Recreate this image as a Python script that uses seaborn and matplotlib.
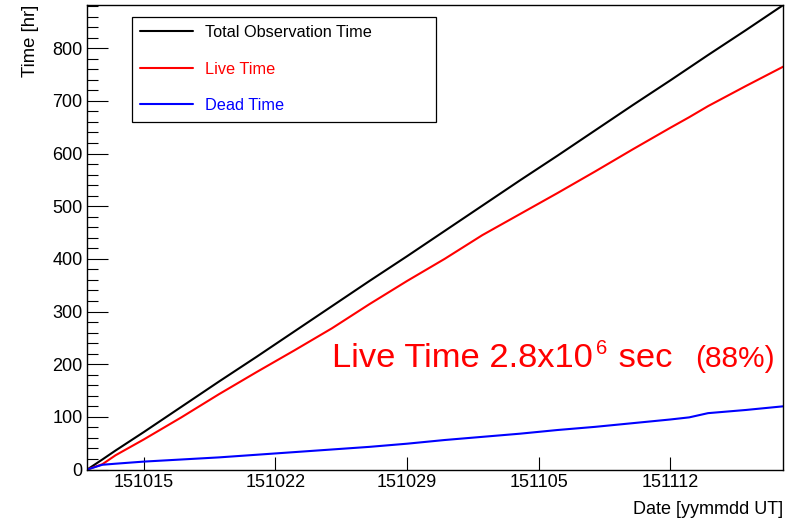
import numpy as np
import pandas as pd
import matplotlib
matplotlib.use("Agg")
import matplotlib.pyplot as plt
import matplotlib.ticker as mticker
from matplotlib.lines import Line2D
import seaborn as sns

# ---- data ----
start_date = "2015-10-12"
days = [0, 0.8, 1.5, 3, 5, 7, 9, 11, 13, 15, 17, 19, 21, 23, 25, 27, 29, 31, 32, 33, 35, 37]
total_hr = [0, 19, 36, 71, 119, 167, 214, 262, 310, 358, 405, 453, 501, 549, 596, 644, 692, 739, 763, 787, 834, 882]
live_hr = [0, 10, 27, 57, 99, 143, 185, 226, 268, 314, 358, 400, 445, 485, 525, 566, 608, 649, 669, 690, 728, 765]
dead_hr = [0, 9, 11, 15, 19, 23, 28, 33, 38, 43, 49, 56, 62, 68, 75, 81, 88, 95, 99, 107, 113, 120]

series_names = ["Total Observation Time", "Live Time", "Dead Time"]
series_colors = ["#000000", "#ff0000", "#0000ff"]
xtick_labels = ["151015", "151022", "151029", "151105", "151112"]
y_max = 882
annotation_text = ["Live Time 2.8x10", "6", " sec", "(88%)"]

# ---- build long-form table ----
t0 = pd.Timestamp(start_date)
dates = t0 + pd.to_timedelta(days, unit="D")
frames = []
for name, vals in zip(series_names, [total_hr, live_hr, dead_hr]):
    frames.append(pd.DataFrame({"date": dates, "hours": vals, "series": name}))
df = pd.concat(frames, ignore_index=True)

sns.set_style("white")
plt.rcParams["font.family"] = ["Liberation Sans", "Noto Sans CJK JP", "DejaVu Sans"]
plt.rcParams["text.color"] = "black"
plt.rcParams["axes.labelcolor"] = "black"
plt.rcParams["xtick.color"] = "black"
plt.rcParams["ytick.color"] = "black"

fig = plt.figure(figsize=(7.94, 5.19), dpi=100)
ax = fig.add_axes([87.3 / 794, 1 - 469.5 / 519, 696 / 794, 464.5 / 519])

sns.lineplot(data=df, x="date", y="hours", hue="series",
             palette=dict(zip(series_names, series_colors)),
             hue_order=series_names, linewidth=1.5, legend=False, ax=ax,
             estimator=None, sort=False)

ax.set_xlim(dates[0], dates[-1])
ax.set_ylim(0, y_max)

tick_pos = [pd.to_datetime(s, format="%y%m%d") for s in xtick_labels]
ax.set_xticks(tick_pos)
ax.set_xticklabels(xtick_labels)
ax.xaxis.set_minor_locator(mticker.NullLocator())
ax.yaxis.set_major_locator(mticker.MultipleLocator(100))
ax.yaxis.set_minor_locator(mticker.MultipleLocator(20))

ax.tick_params(axis="y", which="major", direction="in", length=15.1, width=0.8,
               labelsize=13, pad=3.3, color="black", labelcolor="black",
               left=True, right=False)
ax.tick_params(axis="y", which="minor", direction="in", length=7.6, width=0.8,
               color="black", left=True, right=False)
ax.tick_params(axis="x", which="major", direction="in", length=9.4, width=0.8,
               labelsize=13, pad=2.9, color="black", labelcolor="black",
               bottom=True, top=False)

for sp in ax.spines.values():
    sp.set_visible(True)
    sp.set_color("black")
    sp.set_linewidth(1.0)

ax.set_ylabel("Time [hr]", fontsize=13.3, loc="top", color="black")
ax.yaxis.set_label_coords(-0.070, 1.0)
ax.set_xlabel("Date [yymmdd UT]", fontsize=13, loc="right", color="black")
ax.xaxis.set_label_coords(1.0, -0.068)
ax.grid(False)

# ---- legend ----
handles = [Line2D([], [], color=c, linewidth=1.5) for c in series_colors]
leg = ax.legend(handles, series_names, loc="upper left",
                bbox_to_anchor=(0.0638, 0.7509, 0.4368, 0.2239), mode="expand",
                borderaxespad=0, fontsize=11.7, frameon=True, fancybox=False,
                framealpha=1, edgecolor="black", handlelength=3.28,
                handletextpad=0.7, labelspacing=1.32, borderpad=0.52)
leg.get_frame().set_linewidth(0.9)
for txt, c in zip(leg.get_texts(), series_colors):
    txt.set_color(c)

# ---- annotation ----
x_ann, y_ann = 0.352, 0.2213
t1 = ax.text(x_ann, y_ann, annotation_text[0], transform=ax.transAxes,
             fontsize=24.8, color="red", ha="left", va="baseline")
t2 = ax.annotate(annotation_text[1], xy=(1, y_ann), xycoords=(t1, "axes fraction"),
                 xytext=(1.8, 9.5), textcoords="offset points",
                 fontsize=14.5, color="red", ha="left", va="baseline")
t3 = ax.annotate(annotation_text[2], xy=(1, y_ann), xycoords=(t2, "axes fraction"),
                 xytext=(1.5, 0), textcoords="offset points",
                 fontsize=24.8, color="red", ha="left", va="baseline")
t4 = ax.annotate(annotation_text[3], xy=(1, y_ann), xycoords=(t3, "axes fraction"),
                 xytext=(16.5, 0), textcoords="offset points",
                 fontsize=21.5, color="red", ha="left", va="baseline",
                 annotation_clip=False)

fig.savefig("out.png", dpi=100)
